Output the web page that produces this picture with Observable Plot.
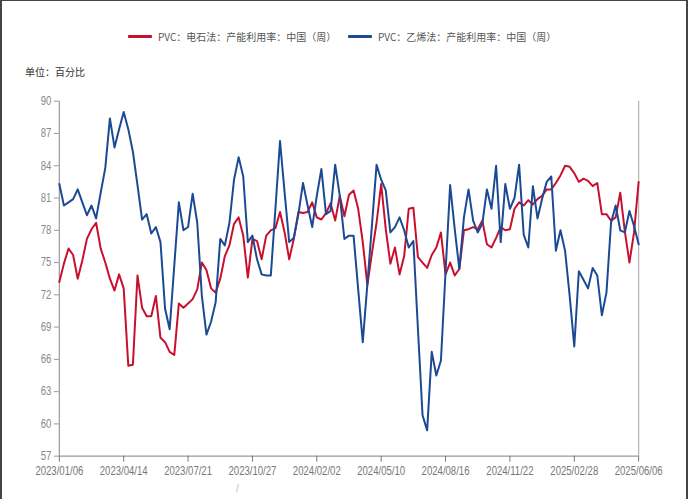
<!DOCTYPE html>
<html>
<head>
<meta charset="utf-8">
<script src="https://cdn.jsdelivr.net/npm/d3@7"></script>
<script src="https://cdn.jsdelivr.net/npm/@observablehq/plot@0.6"></script>
<style>
  html, body { margin: 0; padding: 0; background: #fff; }
  #wrap { position: relative; width: 688px; height: 499px; box-sizing: border-box;
          border-left: 2px solid #444; border-right: 2px solid #444; border-top: 1px solid #444; overflow: hidden; }
  #chart { position: absolute; left: -2px; top: -1px; }
  #chart svg text { font-family: "Liberation Sans Narrow", "Arial Narrow", "Liberation Sans", sans-serif; }
  .legend { position: absolute; top: 28px; left: 0; width: 688px; font-family: "Noto Sans CJK SC", sans-serif;
            font-size: 10px; color: #555; white-space: nowrap; }
  .item { position: absolute; display: flex; align-items: center; }
  .sw { display: inline-block; width: 24px; height: 3px; margin-right: 6px; border-radius: 1px; }
  .unit { position: absolute; left: 23px; top: 63px; font-family: "Noto Sans CJK SC", sans-serif; font-size: 10px; color: #333; }
  .stray { position: absolute; left: 234px; top: 482px; font-family: "Liberation Sans", sans-serif; font-size: 10px; color: #bbb; }
</style>
</head>
<body>
<div id="wrap">
  <div id="chart"></div>
  <div class="legend" id="legend"></div>
  <div class="unit">单位：百分比</div>
  <div class="stray">/</div>
</div>
<script>
const seriesNames = ["PVC：电石法：产能利用率：中国（周）", "PVC：乙烯法：产能利用率：中国（周）"];
const seriesColors = ["#c8102e", "#1b4a94"];
const startDate = "2023/01/06";
const xTickLabels = ["2023/01/06","2023/04/14","2023/07/21","2023/10/27","2024/02/02","2024/05/10","2024/08/16","2024/11/22","2025/02/28","2025/06/06"];
const yTicks = [57,60,63,66,69,72,75,78,81,84,87,90];

// 电石法 (weekly)
const carbide = [
73.2,74.9,76.3,75.7,73.5,75.2,77.2,78.1,78.7,76.3,
75.0,73.5,72.4,73.9,72.6,65.4,65.5,73.8,70.8,70.0,
70.0,71.9,68.0,67.6,66.7,66.4,71.2,70.8,71.2,71.6,
72.5,75.0,74.3,72.6,72.2,73.5,75.6,76.6,78.6,79.2,
77.5,73.6,77.2,77.0,75.3,77.5,78.0,78.2,79.7,77.8,
75.3,77.2,79.7,79.6,79.7,80.6,79.2,79.0,79.6,80.5,
78.9,81.2,79.3,81.3,81.7,80.0,76.9,72.9,75.9,78.7,
82.3,78.1,74.9,76.4,73.9,75.6,80.0,80.1,75.5,75.0,
74.5,75.7,76.4,77.8,73.9,75.0,73.8,74.4,78.0,78.1,
78.3,78.1,78.9,76.7,76.4,77.3,78.3,78.0,78.1,80.0,
80.6,80.3,80.8,80.4,80.9,81.2,81.8,81.8,82.4,83.1,
84.0,83.9,83.3,82.5,82.8,82.6,82.1,82.4,79.5,79.5,
78.9,79.2,81.5,77.9,75.0,77.8,82.5
];
// 乙烯法 (weekly)
const ethylene = [
82.3,80.3,80.6,80.9,81.8,80.6,79.4,80.3,79.1,81.5,
83.8,88.4,85.7,87.4,89.0,87.4,85.3,82.2,79.0,79.5,
77.7,78.3,76.9,70.7,68.8,74.7,80.6,78.0,78.3,81.4,
78.7,71.9,68.3,69.5,71.3,77.2,76.6,78.7,82.7,84.8,
83.0,76.9,77.5,75.3,73.9,73.8,73.8,80.0,86.3,81.5,
76.9,77.3,79.5,82.4,80.3,78.3,81.2,83.7,79.5,79.8,
84.1,81.2,77.2,77.5,77.5,72.5,67.6,73.0,78.5,84.1,
82.7,81.7,77.8,78.3,79.2,78.0,76.4,77.0,68.8,60.8,
59.4,66.7,64.5,65.9,74.1,82.2,78.1,74.4,79.2,81.8,
78.9,77.8,78.6,81.8,80.0,84.0,76.9,82.3,80.0,81.0,
84.1,77.6,76.4,82.1,79.1,80.9,82.5,83.0,76.1,78.0,
76.1,71.9,67.2,74.2,73.4,72.6,74.5,73.8,70.1,72.2,
78.7,80.3,78.0,77.8,79.8,78.4,76.7
];

const parse = d3.utcParse("%Y/%m/%d");
const t0 = parse(startDate);
const rows = [];
[carbide, ethylene].forEach((arr, s) => {
  arr.forEach((v, i) => rows.push({date: d3.utcWeek.offset(t0, i), value: v, series: seriesNames[s]}));
});
const tickDates = xTickLabels.map(parse);
const lastDate = d3.utcWeek.offset(t0, carbide.length - 1);

const chart = Plot.plot({
  width: 688,
  height: 499,
  marginTop: 101,
  marginBottom: 42,
  marginLeft: 59,
  marginRight: 48,
  style: {background: "#fff", color: "#666", fontSize: "12px"},
  x: {type: "utc", domain: [t0, lastDate], ticks: tickDates, tickFormat: d3.utcFormat("%Y/%m/%d"), label: null},
  y: {domain: [57, 90], ticks: yTicks, label: null},
  color: {domain: seriesNames, range: seriesColors},
  marks: [
    Plot.ruleX([lastDate], {stroke: "#b5b5b5", strokeWidth: 1.2}),
    Plot.ruleY([57], {stroke: "#999", strokeWidth: 1.2}),
    Plot.axisY({ticks: yTicks, tickSize: 5, tickPadding: 3, stroke: "#999", color: "#888", fontSize: 12}),
    Plot.ruleX([t0], {stroke: "#999", strokeWidth: 1.2}),
    Plot.axisX({ticks: tickDates, tickFormat: d3.utcFormat("%Y/%m/%d"), tickSize: 6, tickPadding: 4, stroke: "#777", color: "#777", fontSize: 12}),
    Plot.lineY(rows, {x: "date", y: "value", z: "series", stroke: "series", strokeWidth: 2, curve: "linear"})
  ]
});
document.getElementById("chart").appendChild(chart);

// condense tick labels (narrow font look)
chart.querySelectorAll("g[aria-label$='tick label'] text").forEach(t => {
  const tr = t.getAttribute("transform") || "";
  t.setAttribute("transform", tr + " scale(0.8,1)");
});

// legend
const legend = document.getElementById("legend");
const legendX = [126, 346];
seriesNames.forEach((n, k) => {
  const it = document.createElement("div");
  it.className = "item";
  it.style.left = legendX[k] + "px";
  it.innerHTML = `<span class="sw" style="background:${seriesColors[k]}"></span><span>${n}</span>`;
  legend.appendChild(it);
});
</script>
</body>
</html>
